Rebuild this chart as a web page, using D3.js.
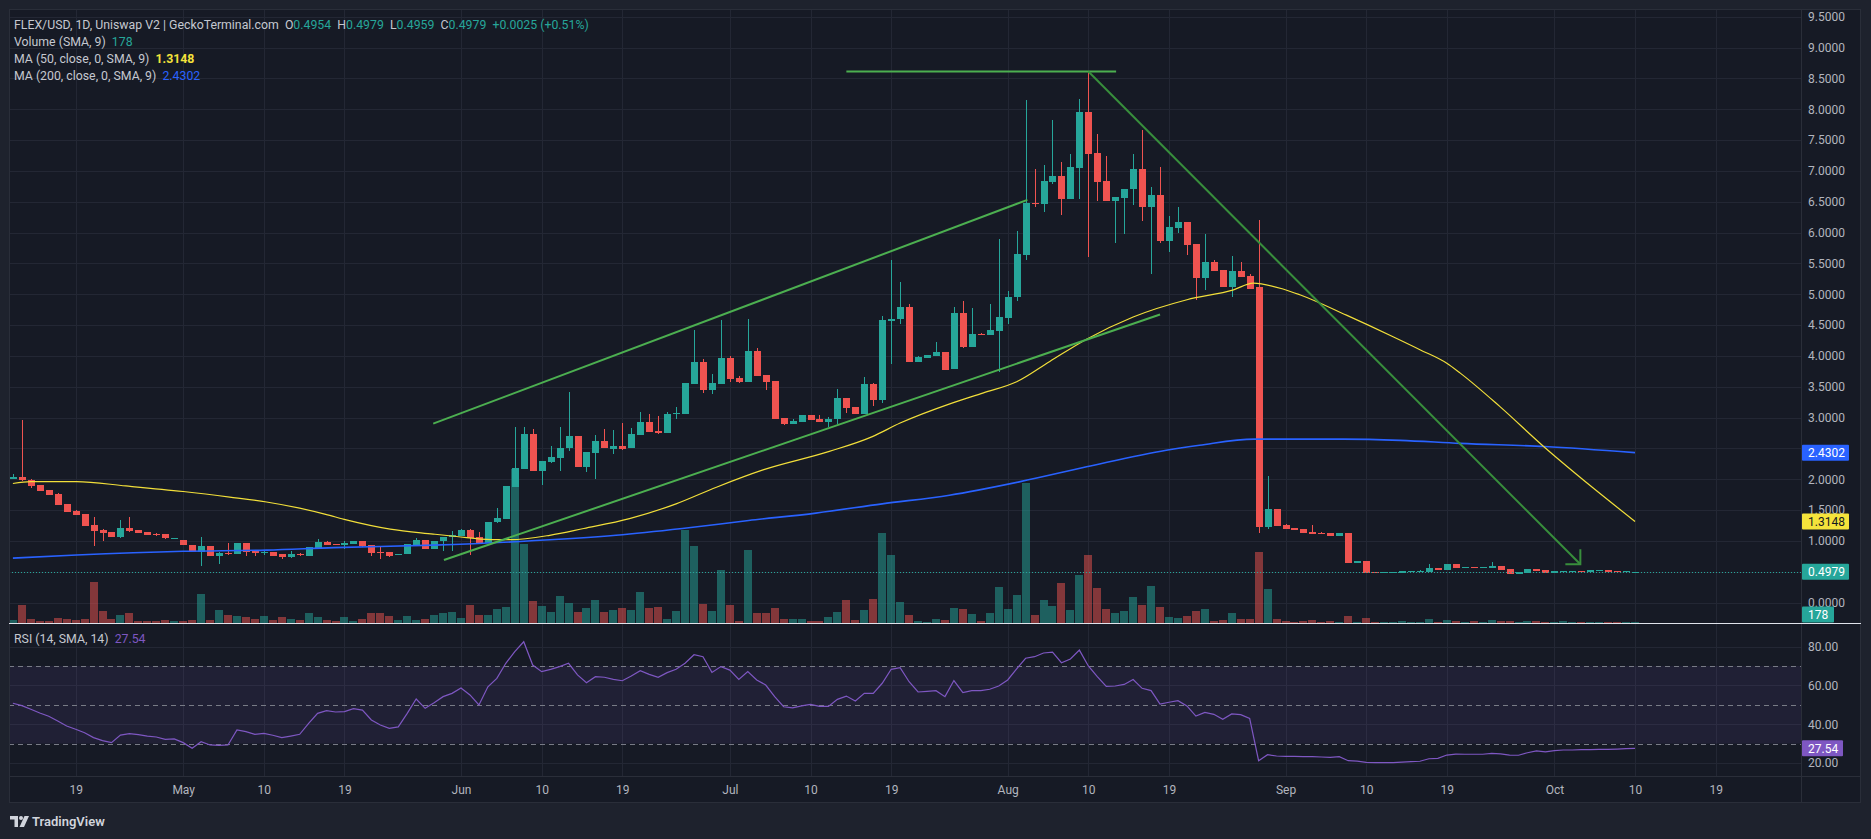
<!DOCTYPE html>
<html><head><meta charset="utf-8">
<script src="https://cdn.jsdelivr.net/npm/d3@7"></script>
<style>
html,body{margin:0;padding:0;background:#1e222d;overflow:hidden;}
svg{display:block;font-family:Roboto,"Noto Sans",sans-serif;}
text{white-space:pre;}
</style></head><body>
<svg id="c" width="1871" height="839"></svg>
<script>
// ---------------- DATA ----------------
const startDate = "2024-04-12";   // first daily candle, last is 2024-10-10
const open = [
 2.01,2.04,1.98,1.90,1.82,1.76,1.60,1.48,1.43,1.25,1.17,1.14,1.07,1.21,1.17,1.14,1.11,1.11,1.035,
 1.02,0.94,0.82,0.92,0.76,0.80,0.78,0.96,0.835,0.81,0.82,0.78,0.73,0.78,0.76,0.89,0.98,0.95,0.94,0.95,0.99,0.93,0.82,0.82,0.77,0.78,0.94,1.01,0.87,0.99,1.06,
 1.08,1.18,1.06,0.96,1.30,1.35,1.88,2.17,2.73,2.14,2.28,2.35,2.50,2.70,2.19,2.43,2.62,2.49,2.54,2.50,2.72,2.93,2.78,2.75,3.05,3.06,3.55,3.90,3.45,3.55,
 3.97,3.64,3.57,4.08,3.69,3.59,2.99,2.90,2.93,3.04,2.98,2.93,2.97,3.32,3.17,3.06,3.54,3.28,4.57,4.60,4.79,3.90,3.96,4.00,4.06,3.78,4.69,4.15,4.35,4.33,4.41,
 4.62,4.95,5.64,6.48,6.47,6.82,6.91,6.54,7.05,7.95,7.29,6.84,6.51,6.56,6.70,7.03,6.42,6.61,5.86,6.08,6.17,5.81,5.26,5.52,5.39,5.11,5.38,5.29,5.11,1.23,1.51,
 1.26,1.21,1.19,1.14,1.13,1.13,1.08,1.13,0.64,0.67,0.495,0.48,0.49,0.48,0.50,0.50,0.49,0.56,0.53,0.62,0.565,0.575,0.565,0.565,0.59,0.54,0.46,0.48,0.54,0.53,
 0.48,0.50,0.50,0.51,0.495,0.52,0.53,0.51,0.495,0.4954];
const high = [
 2.08,2.96,2.00,1.91,1.83,1.78,1.60,1.50,1.44,1.39,1.20,1.14,1.34,1.39,1.17,1.14,1.12,1.11,1.04,
 1.02,0.94,1.06,0.92,0.82,0.96,0.96,0.96,0.84,0.85,0.82,0.78,0.84,0.80,0.90,1.03,1.00,0.95,0.99,0.99,0.99,0.93,0.92,0.82,0.79,0.95,1.05,1.01,0.99,1.07,1.16,
 1.19,1.20,1.15,1.30,1.53,1.89,2.85,2.85,2.81,2.30,2.53,2.85,3.41,2.70,2.44,2.72,2.81,2.80,2.91,2.83,3.09,3.06,3.03,3.09,3.17,3.56,4.42,3.95,3.71,4.58,
 4.00,3.67,4.60,4.13,3.69,3.59,2.99,2.98,3.04,3.04,3.04,3.01,3.46,3.32,3.17,3.66,3.56,4.65,5.55,5.20,4.84,3.99,4.01,4.23,4.06,4.79,4.89,4.78,4.37,4.84,5.89,
 5.05,6.02,8.15,7.03,7.09,7.82,7.14,7.27,8.17,8.61,7.60,7.24,6.58,6.70,7.27,7.67,6.74,7.07,6.26,6.41,6.17,5.81,5.97,5.55,5.39,5.62,5.53,5.32,6.20,2.05,1.51,
 1.28,1.21,1.19,1.26,1.14,1.13,1.13,1.13,0.67,0.67,0.495,0.495,0.495,0.515,0.515,0.525,0.62,0.56,0.62,0.62,0.575,0.575,0.575,0.655,0.59,0.54,0.495,0.54,0.54,0.53,
 0.51,0.515,0.515,0.51,0.53,0.53,0.53,0.51,0.51,0.4979];
const low = [
 2.00,1.97,1.85,1.81,1.75,1.58,1.47,1.42,1.24,0.92,1.00,1.07,1.04,1.15,1.12,1.10,1.08,1.03,1.03,
 0.93,0.82,0.59,0.76,0.63,0.77,0.78,0.76,0.76,0.77,0.76,0.71,0.72,0.76,0.76,0.89,0.94,0.94,0.87,0.95,0.90,0.76,0.71,0.74,0.77,0.78,0.94,0.87,0.87,0.84,0.84,
 1.08,0.77,0.96,0.96,1.29,1.35,1.87,2.16,2.14,1.90,2.27,2.14,2.45,2.19,2.11,2.00,2.50,2.41,2.48,2.50,2.72,2.77,2.73,2.75,2.98,3.06,3.55,3.40,3.38,3.55,
 3.57,3.56,3.57,3.67,3.45,2.98,2.88,2.90,2.93,2.96,2.93,2.85,2.90,3.07,3.06,3.06,3.19,3.24,3.87,4.52,3.90,3.90,3.96,4.00,3.77,3.78,4.12,4.15,4.33,4.33,3.73,
 4.51,4.89,5.55,6.42,6.33,6.78,6.29,6.54,6.55,5.60,6.51,6.51,5.83,5.98,6.45,6.19,5.32,5.83,5.69,6.00,5.64,4.90,5.06,5.38,5.11,4.96,5.28,5.09,1.13,1.19,1.24,
 1.19,1.18,1.13,1.11,1.11,1.08,1.08,0.64,0.64,0.48,0.48,0.48,0.49,0.48,0.50,0.50,0.49,0.53,0.53,0.565,0.565,0.565,0.565,0.565,0.53,0.46,0.46,0.48,0.51,0.48,
 0.48,0.50,0.50,0.495,0.495,0.52,0.495,0.495,0.495,0.4954];
const close = [
 2.04,1.98,1.89,1.81,1.75,1.58,1.47,1.42,1.24,1.16,1.12,1.07,1.21,1.16,1.12,1.10,1.09,1.04,1.04,
 0.93,0.82,0.92,0.76,0.81,0.78,0.96,0.82,0.81,0.82,0.76,0.73,0.78,0.77,0.90,0.98,0.94,0.94,0.96,0.99,0.92,0.80,0.81,0.76,0.79,0.95,1.01,0.87,0.99,1.07,1.095,
 1.18,1.04,0.97,1.30,1.37,1.89,2.18,2.73,2.14,2.30,2.36,2.51,2.70,2.19,2.44,2.62,2.50,2.54,2.49,2.73,2.93,2.77,2.75,3.06,3.07,3.56,3.90,3.45,3.56,3.97,
 3.63,3.57,4.08,3.67,3.58,2.98,2.90,2.94,3.04,2.96,2.93,2.98,3.32,3.15,3.06,3.54,3.28,4.58,4.60,4.79,3.90,3.98,4.01,4.06,3.77,4.69,4.15,4.35,4.33,4.42,4.63,
 4.96,5.65,6.48,6.47,6.84,6.91,6.54,7.06,7.95,7.28,6.82,6.51,6.58,6.70,7.03,6.42,6.61,5.86,6.09,6.17,5.80,5.26,5.52,5.38,5.11,5.38,5.28,5.09,1.23,1.51,1.24,
 1.19,1.18,1.13,1.11,1.11,1.08,1.13,0.64,0.67,0.48,0.48,0.495,0.495,0.515,0.515,0.515,0.56,0.53,0.62,0.565,0.575,0.565,0.575,0.59,0.53,0.46,0.495,0.54,0.51,0.48,
 0.51,0.515,0.515,0.495,0.53,0.53,0.495,0.495,0.51,0.4979];
const volume = [
 400,2200,520,280,280,640,520,400,520,4960,1480,520,1000,1240,280,200,280,400,280,
 280,400,3520,400,1600,1000,880,760,520,880,400,760,520,400,1240,760,400,280,760,280,520,1240,1240,880,400,880,400,520,1000,1240,1360,
 600,2120,920,920,1640,1880,18440,9440,2600,2000,1280,3200,2360,1280,1760,2720,1280,1520,1760,1520,3680,1760,1880,440,1400,11120,9200,2240,1400,6320,
 2120,240,8720,1160,1160,1760,440,440,440,240,240,680,1280,2720,320,1520,2840,10760,8120,2500,940,240,120,440,340,1800,1680,1080,240,1200,4320,
 1680,3360,16800,960,2760,2040,4800,1560,5760,8160,4200,1680,1200,1440,3120,2160,4440,1920,720,600,840,1440,1680,240,360,1200,480,480,8520,4080,480,
 240,120,240,360,120,240,120,840,120,600,160,160,160,280,160,160,520,160,400,280,160,280,160,400,280,280,160,280,280,160,
 160,280,160,160,160,160,160,160,160,178];
// RSI (14) value per day
const rsi = [
 50.8,49.6,47.7,45.8,44.1,41.6,39.1,37.4,35.6,33.1,
 31.5,30.5,34.4,35.1,34.6,33.9,33.4,32.2,32.4,30.5,
 27.6,31.0,29.3,29.1,29.3,37.0,36.2,34.8,35.3,34.3,
 33.1,33.9,34.8,40.4,45.6,47.0,46.3,46.5,48.0,47.3,
 42.2,39.6,37.9,38.6,45.6,53.0,48.2,51.1,54.2,55.9,
 58.7,55.1,49.9,59.3,63.6,71.4,77.4,82.5,70.5,67.1,
 68.3,69.7,71.4,65.4,61.4,64.5,64.2,63.1,62.4,64.8,
 67.6,65.7,64.2,66.6,68.3,71.4,75.8,74.8,66.7,69.7,
 67.9,63.1,67.1,62.8,60.2,54.2,49.0,48.4,49.4,50.2,
 49.2,49.2,52.8,54.5,52.0,55.9,55.9,61.1,68.3,69.1,
 61.9,56.6,56.9,
 57.3,54.2,62.5,56.3,57.3,57.3,58.0,59.7,62.8,68.5,
 74.0,74.8,76.7,77.2,71.7,73.6,78.2,70.0,64.5,59.5,
 59.7,60.5,63.0,58.5,57.3,50.4,51.3,52.1,49.4,44.2,
 46.1,45.1,42.5,45.3,44.9,43.0,21.2,24.3,23.6,23.4,
 23.4,23.3,23.3,23.1,22.9,23.3,21.2,21.0,20.3,20.2,
 20.2,20.2,20.5,20.7,20.9,22.2,22.4,24.1,24.6,24.5,
 24.5,24.5,25.0,24.7,24.1,24.0,25.3,26.2,25.7,26.4,
 26.7,26.7,26.9,26.9,27.0,27.0,27.2,27.4,27.54];
// moving averages: [day offset from startDate, value]
const ma50 = [[0,1.93],[2,1.96],[7.1,1.96],[12.6,1.89],[19,1.80],[24.2,1.71],[28.3,1.63],[32,1.53],[34.9,1.43],[37.2,1.34],
 [42.1,1.19],[46.9,1.11],[49.5,1.07],[53.4,1.02],[55.5,1.02],[59.9,1.09],[63.7,1.20],[68.8,1.36],[74,1.60],[78.5,1.87],
 [83.7,2.15],[91.1,2.45],[95.9,2.69],[99,2.91],[104.7,3.23],[108.3,3.40],[112,3.58],[115.7,3.91],[119.8,4.27],[125,4.63],
 [131,4.91],[136.2,5.07],[138.4,5.18],[141.8,5.08],[143.6,4.99],[148.8,4.66],[154,4.31],[157,4.10],[160,3.88],[161.5,3.72],
 [165.9,3.18],[170.8,2.53],[176.3,1.86],[181,1.3148]];
const ma200 = [[0,0.72],[7.1,0.77],[19,0.83],[28.3,0.85],[35.8,0.89],[46.9,0.93],[56.6,0.99],[67.3,1.09],[74.7,1.20],[82.1,1.33],[89.6,1.45],
 [97,1.60],[104.5,1.74],[112.4,1.96],[119.8,2.20],[128.7,2.47],[132.4,2.55],[138.5,2.65],[148.4,2.65],[154.8,2.63],
 [161.5,2.58],[170.9,2.53],[181,2.4302]];
// drawings: [day offset, price]
const upperChannel = [[46.9,2.90],[113.2,6.53]];
const lowerChannel = [[48.1,0.69],[128.0,4.67]];
const topLine = [[93.0,8.61],[123.1,8.61]];
const downTrend = [[120.0,8.61],[174.9,0.62]];
const lastPrice = 0.4979, lastVolume = 178, lastRsi = 27.54, ma50Last = 1.3148, ma200Last = 2.4302;
const priceTicks = d3.range(0, 9.51, 0.5);
const rsiTicks = [20, 40, 60, 80];
const rsiLevels = [70, 50, 30];
const timeTickDates = ["2024-04-19","2024-05-01","2024-05-10","2024-05-19","2024-06-01","2024-06-10","2024-06-19",
 "2024-07-01","2024-07-10","2024-07-19","2024-08-01","2024-08-10","2024-08-19","2024-09-01","2024-09-10","2024-09-19",
 "2024-10-01","2024-10-10","2024-10-19"];
const timeTickLabels = ["19","May","10","19","Jun","10","19","Jul","10","19","Aug","10","19","Sep","10","19","Oct","10","19"];

// ---------------- LAYOUT ----------------
const UP = "#26a69a", DOWN = "#ef5350", GRID = "#232734", TXT = "#b2b5be", PANE = "#161a25", BORDER = "#2a2e39";
const L = 9, R = 1801, FR = 1861, MT = 9, MB = 623, RT = 624, RB = 776, AB = 803;
const svg = d3.select("#c");
const parse = d3.utcParse("%Y-%m-%d");
const t0 = parse(startDate);
const N = close.length;
const x = d3.scaleUtc().domain([t0, d3.utcDay.offset(t0, 181)]).range([12.9, 12.9 + 181 * 8.962]);
const xi = i => x(new Date(t0.getTime() + i * 864e5));
const y = d3.scaleLinear().domain([0, 9.5]).range([602.5, 16.7]);
const yv = d3.scaleLinear().domain([0, 24000]).range([MB, MB - 200]);
const yr = d3.scaleLinear().domain([20, 80]).range([763, 646.6]);

svg.append("rect").attr("width", 1871).attr("height", 839).attr("fill", "#1e222d");
svg.append("rect").attr("x", L).attr("y", MT).attr("width", FR - L).attr("height", AB - MT).attr("fill", PANE);

const defs = svg.append("defs");
defs.append("clipPath").attr("id", "cm").append("rect").attr("x", L).attr("y", MT).attr("width", R - L).attr("height", MB - MT);
defs.append("clipPath").attr("id", "cr").append("rect").attr("x", L).attr("y", RT).attr("width", R - L).attr("height", RB - RT);

// grids
const grid = svg.append("g").attr("shape-rendering", "crispEdges");
grid.selectAll(".hp").data(priceTicks).join("line")
  .attr("x1", L).attr("x2", R).attr("y1", d => Math.round(y(d)) + 0.5).attr("y2", d => Math.round(y(d)) + 0.5).attr("stroke", GRID);
grid.selectAll(".hr").data(rsiTicks).join("line")
  .attr("x1", L).attr("x2", R).attr("y1", d => Math.round(yr(d)) + 0.5).attr("y2", d => Math.round(yr(d)) + 0.5).attr("stroke", GRID);
grid.selectAll(".v").data(timeTickDates).join("line")
  .attr("x1", d => Math.round(x(parse(d))) + 0.5).attr("x2", d => Math.round(x(parse(d))) + 0.5)
  .attr("y1", MT).attr("y2", RB).attr("stroke", GRID);

// RSI band
svg.append("rect").attr("x", L).attr("width", R - L).attr("y", yr(70)).attr("height", yr(30) - yr(70))
  .attr("fill", "rgba(126,87,194,0.10)");
svg.append("g").selectAll("line").data(rsiLevels).join("line")
  .attr("x1", L).attr("x2", R).attr("y1", d => Math.round(yr(d)) + 0.5).attr("y2", d => Math.round(yr(d)) + 0.5)
  .attr("stroke", "#787b86").attr("stroke-dasharray", "5,4");

// main pane content
const main = svg.append("g").attr("clip-path", "url(#cm)");
const idx = d3.range(N);
const cx = i => Math.round(xi(i));
const isUp = i => close[i] >= open[i];
main.append("g").attr("shape-rendering", "crispEdges").selectAll("rect").data(idx).join("rect")
  .attr("x", i => cx(i) - 4).attr("width", 8)
  .attr("y", i => yv(volume[i])).attr("height", i => Math.max(1, MB - yv(volume[i])))
  .attr("fill", i => isUp(i) ? "rgba(38,166,154,0.5)" : "rgba(239,83,80,0.5)");

const candles = main.append("g").attr("shape-rendering", "crispEdges");
candles.selectAll("line").data(idx).join("line")
  .attr("x1", i => cx(i) + 0.5).attr("x2", i => cx(i) + 0.5)
  .attr("y1", i => y(high[i])).attr("y2", i => y(low[i]))
  .attr("stroke", i => isUp(i) ? UP : DOWN);
candles.selectAll("rect").data(idx).join("rect")
  .attr("x", i => cx(i) - 3).attr("width", 7)
  .attr("y", i => y(Math.max(open[i], close[i])))
  .attr("height", i => Math.max(1, Math.abs(y(open[i]) - y(close[i]))))
  .attr("fill", i => isUp(i) ? UP : DOWN);

const maLine = d3.line().x(d => xi(d[0])).y(d => y(d[1])).curve(d3.curveMonotoneX);
main.append("path").attr("d", maLine(ma200)).attr("fill", "none").attr("stroke", "#2962ff").attr("stroke-width", 1.6);
main.append("path").attr("d", maLine(ma50)).attr("fill", "none").attr("stroke", "#f2df3a").attr("stroke-width", 1.2);

const seg = d3.line().x(d => xi(d[0])).y(d => y(d[1]));
[[upperChannel, "#4caf50"], [lowerChannel, "#4caf50"], [topLine, "#4caf50"], [downTrend, "#388e3c"]].forEach(([pts, col]) => {
  main.append("path").attr("d", seg(pts)).attr("stroke", col).attr("stroke-width", 2).attr("fill", "none");
});
// arrow head at the end of the down-trend line
const tipX = xi(downTrend[1][0]), tipY = y(downTrend[1][1]);
main.append("path").attr("d", `M${tipX},${tipY - 15}L${tipX},${tipY}L${tipX - 15},${tipY}`)
  .attr("stroke", "#388e3c").attr("stroke-width", 2).attr("fill", "none");

main.append("line").attr("x1", L).attr("x2", R).attr("y1", Math.round(y(lastPrice)) + 0.5).attr("y2", Math.round(y(lastPrice)) + 0.5)
  .attr("stroke", UP).attr("stroke-dasharray", "1,2");

// RSI line
const rsiG = svg.append("g").attr("clip-path", "url(#cr)");
rsiG.append("path").attr("d", d3.line().x((d, i) => xi(i)).y(d => yr(d))(rsi))
  .attr("fill", "none").attr("stroke", "#7e57c2").attr("stroke-width", 1.2);

// frame / separators
const fr = svg.append("g").attr("shape-rendering", "crispEdges");
fr.append("rect").attr("x", L + 0.5).attr("y", MT + 0.5).attr("width", FR - L - 1).attr("height", AB - MT - 1)
  .attr("fill", "none").attr("stroke", BORDER);
fr.append("line").attr("x1", R + 0.5).attr("x2", R + 0.5).attr("y1", MT).attr("y2", AB).attr("stroke", BORDER);
fr.append("line").attr("x1", L).attr("x2", FR).attr("y1", RB + 0.5).attr("y2", RB + 0.5).attr("stroke", BORDER);
fr.append("line").attr("x1", L).attr("x2", FR).attr("y1", MB + 0.5).attr("y2", MB + 0.5).attr("stroke", "#e0e3eb");

// price axis (labels hidden behind the value badges are left out, as on the chart)
const badgeValues = [ma200Last, lastPrice];
const visiblePriceTicks = priceTicks.filter(t => badgeValues.every(b => Math.abs(y(t) - y(b)) > 9));
const pa = svg.append("g").attr("transform", `translate(${R},0)`)
  .call(d3.axisRight(y).tickValues(visiblePriceTicks).tickFormat(d => d.toFixed(4)).tickSize(0).tickPadding(7));
pa.select(".domain").remove();
pa.selectAll("text").attr("fill", TXT).attr("font-size", 12).attr("font-family", "Roboto, sans-serif");
const ra = svg.append("g").attr("transform", `translate(${R},0)`)
  .call(d3.axisRight(yr).tickValues(rsiTicks).tickFormat(d => d.toFixed(2)).tickSize(0).tickPadding(7));
ra.select(".domain").remove();
ra.selectAll("text").attr("fill", TXT).attr("font-size", 12).attr("font-family", "Roboto, sans-serif");

// time axis
const ta = svg.append("g").attr("transform", `translate(0,${RB})`)
  .call(d3.axisBottom(x).tickValues(timeTickDates.map(parse)).tickFormat((d, i) => timeTickLabels[i]).tickSize(0).tickPadding(9));
ta.select(".domain").remove();
ta.selectAll("text").attr("fill", TXT).attr("font-size", 12).attr("font-family", "Roboto, sans-serif");

// badges
function badge(cy, txt, bg, fg, w) {
  const g = svg.append("g");
  g.append("rect").attr("x", R + 1).attr("y", cy - 8).attr("width", w).attr("height", 16).attr("rx", 1).attr("fill", bg);
  g.append("text").attr("x", R + 7).attr("y", cy).attr("dy", "0.35em").attr("font-size", 12).attr("fill", fg).text(txt);
}
badge(y(ma200Last), ma200Last.toFixed(4), "#2962ff", "#ffffff", 47);
badge(y(ma50Last), ma50Last.toFixed(4), "#f5e33b", "#131722", 47);
badge(y(lastPrice), lastPrice.toFixed(4), UP, "#ffffff", 47);
badge(MB - 8.5, String(lastVolume), UP, "#ffffff", 32);
badge(yr(lastRsi), lastRsi.toFixed(2), "#7e57c2", "#ffffff", 41);

// legends
const lg = svg.append("g").attr("font-size", 12.3).attr("fill", "#c5c8d0");
const l1 = lg.append("text").attr("x", 14).attr("y", 29);
l1.append("tspan").text("FLEX/USD, 1D, Uniswap V2 | GeckoTerminal.com  O");
l1.append("tspan").attr("fill", UP).text("0.4954");
l1.append("tspan").text("  H");
l1.append("tspan").attr("fill", UP).text("0.4979");
l1.append("tspan").text("  L");
l1.append("tspan").attr("fill", UP).text("0.4959");
l1.append("tspan").text("  C");
l1.append("tspan").attr("fill", UP).text("0.4979  +0.0025 (+0.51%)");
const l2 = lg.append("text").attr("x", 14).attr("y", 46);
l2.append("tspan").text("Volume (SMA, 9)  ");
l2.append("tspan").attr("fill", UP).text(String(lastVolume));
const l3 = lg.append("text").attr("x", 14).attr("y", 63);
l3.append("tspan").text("MA (50, close, 0, SMA, 9)  ");
l3.append("tspan").attr("fill", "#f5e33b").attr("font-weight", 700).text(ma50Last.toFixed(4));
const l4 = lg.append("text").attr("x", 14).attr("y", 80);
l4.append("tspan").text("MA (200, close, 0, SMA, 9)  ");
l4.append("tspan").attr("fill", "#2962ff").text(ma200Last.toFixed(4));
const l5 = lg.append("text").attr("x", 14).attr("y", 643);
l5.append("tspan").text("RSI (14, SMA, 14)  ");
l5.append("tspan").attr("fill", "#7e57c2").text(lastRsi.toFixed(2));

// TradingView logo
const logo = svg.append("g").attr("transform", "translate(10,816)").attr("fill", "#d1d4dc");
logo.append("path").attr("d", "M0,0H8V11H4.5V3.5H0Z");
logo.append("circle").attr("cx", 11).attr("cy", 2).attr("r", 2);
logo.append("path").attr("d", "M14.5,0H19L14,11H9.5Z");
svg.append("text").attr("x", 32).attr("y", 826).attr("font-size", 13).attr("font-weight", 600)
  .attr("fill", "#d1d4dc").text("TradingView");
</script>
</body></html>
